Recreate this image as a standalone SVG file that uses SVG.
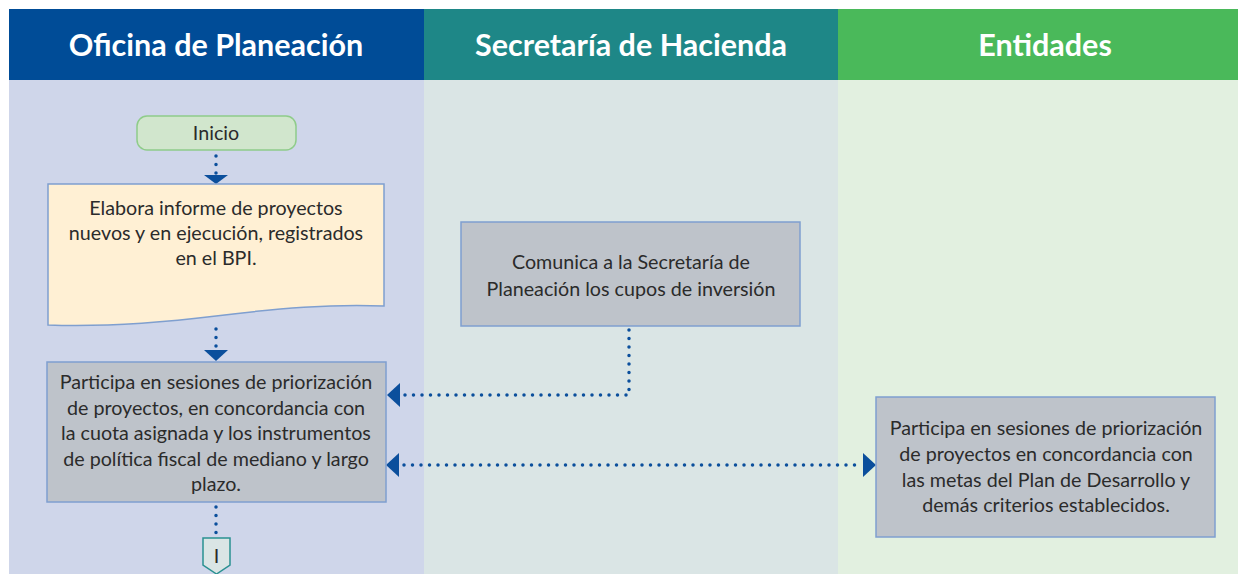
<svg xmlns="http://www.w3.org/2000/svg" width="1238" height="574" viewBox="0 0 1238 574">
<defs>
<style>
.hdr{font-family:Lato,"Liberation Sans",sans-serif;font-weight:bold;font-size:30.5px;fill:#ffffff;text-anchor:middle}
.t{font-family:Lato,"Liberation Sans",sans-serif;font-size:19.7px;fill:#2b2b2b;text-anchor:middle}
.box{fill:#bec3ca;stroke:#7f9fcf;stroke-width:1.5}
.dot{fill:none;stroke:#0b4f9c;stroke-width:3.5;stroke-linecap:round;stroke-dasharray:0 8.5}
.ah{fill:#0b4f9c}
</style>
</defs>
<rect x="0" y="0" width="1238" height="574" fill="#ffffff"/>
<g id="lanes">
<rect x="9" y="9" width="415" height="71" fill="#004c97"/>
<rect x="424" y="9" width="414" height="71" fill="#1e8787"/>
<rect x="838" y="9" width="400" height="71" fill="#4ab95a"/>
<rect x="9" y="80" width="415" height="494" fill="#cfd6ea"/>
<rect x="424" y="80" width="414" height="494" fill="#dae5e5"/>
<rect x="838" y="80" width="400" height="494" fill="#e2f0e0"/>
<text class="hdr" x="216" y="56">Oficina de Planeación</text>
<text class="hdr" x="631" y="56">Secretaría de Hacienda</text>
<text class="hdr" x="1045" y="56">Entidades</text>
</g>
<g id="connectors">
<path class="dot" d="M216,156 V176"/>
<polygon class="ah" points="204,175 228,175 216,184"/>
<path class="dot" d="M216,329 V349"/>
<polygon class="ah" points="204,350 228,350 216,361"/>
<path class="dot" d="M629,330 V395 H404"/>
<polygon class="ah" points="387,395 400,383 400,407"/>
<path class="dot" d="M404,465 H860"/>
<polygon class="ah" points="386,465 399,453 399,477"/>
<polygon class="ah" points="876,465 863,453 863,477"/>
<path class="dot" d="M216,507 V536"/>
</g>
<g id="inicio">
<rect x="137" y="116" width="159" height="34" rx="10" ry="10" fill="#d1e6cd" stroke="#8fcc8a" stroke-width="1.5"/>
<text class="t" x="216" y="140">Inicio</text>
</g>
<g id="elabora">
<path d="M48,184 H384 V306 C330,304 280,308 216,316 C150,324 100,327 48,325 Z" fill="#fff0d4" stroke="#7f9fcf" stroke-width="1.5"/>
<text class="t" x="216" y="215">Elabora informe de proyectos</text>
<text class="t" x="216" y="240">nuevos y en ejecución, registrados</text>
<text class="t" x="216" y="265">en el BPI.</text>
</g>
<g id="participa-op">
<rect class="box" x="47" y="362" width="339" height="140"/>
<text class="t" x="216" y="389">Participa en sesiones de priorización</text>
<text class="t" x="216" y="415">de proyectos, en concordancia con</text>
<text class="t" x="216" y="440">la cuota asignada y los instrumentos</text>
<text class="t" x="216" y="466">de política fiscal de mediano y largo</text>
<text class="t" x="216" y="491">plazo.</text>
</g>
<g id="comunica">
<rect class="box" x="461" y="222" width="339" height="104"/>
<text class="t" x="631" y="269">Comunica a la Secretaría de</text>
<text class="t" x="631" y="296">Planeación los cupos de inversión</text>
</g>
<g id="participa-ent">
<rect class="box" x="876" y="397" width="339" height="140"/>
<text class="t" x="1046" y="435">Participa en sesiones de priorización</text>
<text class="t" x="1046" y="461">de proyectos en concordancia con</text>
<text class="t" x="1046" y="487">las metas del Plan de Desarrollo y</text>
<text class="t" x="1046" y="512">demás criterios establecidos.</text>
</g>
<g id="conector-I">
<polygon points="203,538 230,538 230,565 216.5,574 203,565" fill="#dae5e5" stroke="#2a9191" stroke-width="1.5"/>
<text class="t" x="216.5" y="563">I</text>
</g>
</svg>
